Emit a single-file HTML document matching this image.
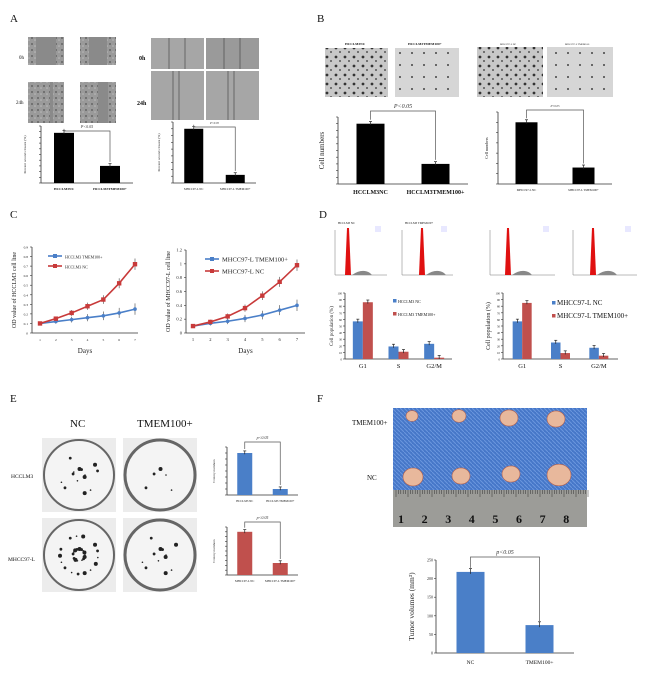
<!DOCTYPE html>
<html><head><meta charset="utf-8"><style>
body{margin:0;background:#fff}
svg{display:block;font-family:"Liberation Serif",serif}
</style></head><body>
<svg id="fig" width="650" height="676" viewBox="0 0 650 676">
<defs>
<pattern id="cells" width="6" height="6" patternUnits="userSpaceOnUse"><rect width="6" height="6" fill="#9a9a9a"/><circle cx="2" cy="2" r="1" fill="#666"/><circle cx="5" cy="4" r="0.8" fill="#bbb"/></pattern>
<pattern id="inv" width="9" height="9" patternUnits="userSpaceOnUse"><rect width="9" height="9" fill="#c8c8c8"/><circle cx="3" cy="3" r="1.4" fill="#333"/><circle cx="7" cy="7" r="1" fill="#555"/></pattern>
<pattern id="inv2" width="12" height="12" patternUnits="userSpaceOnUse"><rect width="12" height="12" fill="#d6d6d6"/><circle cx="4" cy="5" r="1" fill="#444"/></pattern>
<pattern id="blue" width="4" height="4" patternUnits="userSpaceOnUse"><rect width="4" height="4" fill="#4677c8"/><path d="M0 0L4 4" stroke="#6a96de" stroke-width="1"/></pattern>
</defs>
<g id="root"></g>
</svg>
<script>
// ---- data ----
const aCats1 = ["HCCLM3NC","HCCLM3TMEM100+"];
const aVals1 = [88, 30];
const aCats2 = ["MHCC97-L NC","MHCC97-L TMEM100+"];
const aVals2 = [80, 12];
const bVals1 = [90, 30];
const bVals2 = [120, 32];
const days = [1,2,3,4,5,6,7];
const cNC1 = [0.10,0.15,0.21,0.28,0.35,0.52,0.72];
const cTM1 = [0.10,0.12,0.14,0.16,0.18,0.21,0.25];
const cNC2 = [0.10,0.16,0.24,0.36,0.54,0.74,0.98];
const cTM2 = [0.10,0.14,0.17,0.21,0.26,0.33,0.40];
const phases = ["G1","S","G2/M"];
const dNC1 = [57,19,23];
const dTM1 = [86,11,2];
const dNC2 = [57,25,17];
const dTM2 = [85,9,5];
const eVals1 = [70,10];
const eVals2 = [90,25];
const fCats = ["NC","TMEM100+"];
const fVals = [218,75];

const NS="http://www.w3.org/2000/svg";
const root=document.getElementById('root');
function el(tag,attrs,parent,txt){const e=document.createElementNS(NS,tag);for(const k in attrs)e.setAttribute(k,attrs[k]);if(txt!==undefined)e.textContent=txt;(parent||root).appendChild(e);return e;}
function text(x,y,s,size,name,extra){const t=el('text',Object.assign({x:x,y:y,'font-size':size,fill:'#111'},extra||{}),root,s);


return t;}

function barChart(o){
  const g=el('g',{});
  
  
  const sy=v=>o.yb-(v/o.max)*(o.yb-o.yt);
  el('line',{x1:o.x0,y1:o.yt,x2:o.x0,y2:o.yb,stroke:'#333','stroke-width':0.8},g);
  el('line',{x1:o.x0,y1:o.yb,x2:o.x1,y2:o.yb,stroke:'#333','stroke-width':0.8},g);
  for(let v=0;v<=o.max+1e-9;v+=o.step){const y=sy(v);el('line',{x1:o.x0-2,y1:y,x2:o.x0,y2:y,stroke:'#333','stroke-width':0.6},g);
    if(o.tick){el('text',{x:o.x0-3,y:y+1.5,'font-size':o.tick,'text-anchor':'end',fill:'#222'},g,String(v));}}
  const n=o.cats.length, gw=(o.x1-o.x0)/n, ns=o.series.length;
  for(let i=0;i<n;i++){
    const cx=o.x0+(i+0.5)*gw;
    o.series.forEach((s,j)=>{
      const bx=cx-ns*o.bw/2+j*o.bw, v=s.vals[i], y=sy(v);
      const r=el('rect',{x:bx,y:y,width:o.bw,height:o.yb-y,fill:s.color},g);
      
      
      const e=(s.err||0.06)*o.max*0.12+1.5;
      el('line',{x1:bx+o.bw/2,y1:y-e,x2:bx+o.bw/2,y2:y+e*0.6,stroke:'#222','stroke-width':0.7},g);
      el('line',{x1:bx+o.bw/2-1.5,y1:y-e,x2:bx+o.bw/2+1.5,y2:y-e,stroke:'#222','stroke-width':0.7},g);
    });
    if(o.lab){el('text',{x:cx,y:o.yb+o.lab.dy,'font-size':o.lab.size,'text-anchor':'middle',fill:'#111','font-weight':o.lab.bold?'bold':'normal'},g,o.cats[i]);}
  }
  if(o.bracket){
    const c0=o.x0+0.5*gw, c1=o.x0+1.5*gw, yb=o.bracket.y;
    const ya=sy(o.series[0].vals[0])-4, yb2=sy(o.series[0].vals[1])-4;
    el('polyline',{points:`${c0},${ya} ${c0},${yb} ${c1},${yb} ${c1},${yb2}`,fill:'none',stroke:'#555','stroke-width':0.7},g);
    el('text',{x:(c0+c1)/2,y:yb-3,'font-size':o.bracket.size,'text-anchor':'middle','font-style':'italic',fill:'#333'},g,o.bracket.t);
  }
  if(o.ylab){el('text',{x:o.ylab.x,y:(o.yt+o.yb)/2,'font-size':o.ylab.size,'text-anchor':'middle',fill:'#222',transform:`rotate(-90 ${o.ylab.x} ${(o.yt+o.yb)/2})`},g,o.ylab.t);}
}

function lineChart(o){
  const g=el('g',{});
  
  
  const sx=d=>o.xa+(d-1)/6*(o.xb-o.xa), sy=v=>o.yb-v/o.max*(o.yb-o.yt);
  el('line',{x1:o.x0,y1:o.yt,x2:o.x0,y2:o.yb,stroke:'#333','stroke-width':0.8},g);
  el('line',{x1:o.x0,y1:o.yb,x2:o.x1,y2:o.yb,stroke:'#333','stroke-width':0.8},g);
  for(let v=0;v<=o.max+1e-9;v+=o.step){const y=sy(v);el('line',{x1:o.x0-2,y1:y,x2:o.x0,y2:y,stroke:'#333','stroke-width':0.6},g);
    el('text',{x:o.x0-4,y:y+1.5,'font-size':o.tick,'text-anchor':'end',fill:'#222'},g,String(+v.toFixed(1)));}
  days.forEach(d=>{el('text',{x:sx(d),y:o.yb+8,'font-size':o.tick,'text-anchor':'middle',fill:'#222'},g,String(d));});
  el('text',{x:(o.x0+o.x1)/2,y:o.yb+20,'font-size':7,'text-anchor':'middle',fill:'#222'},g,'Days');
  el('text',{x:o.x0-16,y:(o.yt+o.yb)/2,'font-size':6,'text-anchor':'middle',fill:'#222',transform:`rotate(-90 ${o.x0-16} ${(o.yt+o.yb)/2})`},g,o.ylab);
  [[o.tm,'#4a7fc8','d'],[o.nc,'#c83a3a','s']].forEach(([vals,c,m])=>{
    const pl=el('polyline',{points:vals.map((v,i)=>sx(days[i])+','+sy(v)).join(' '),fill:'none',stroke:c,'stroke-width':1.6},g);
    
    
    vals.forEach((v,i)=>{const x=sx(days[i]),y=sy(v),e=1.5+i*0.7;
      el('line',{x1:x,y1:y-e,x2:x,y2:y+e,stroke:'#444','stroke-width':0.6},g);
      const p=m==='s'?el('rect',{x:x-2.2,y:y-2.2,width:4.4,height:4.4,fill:c},g):el('circle',{cx:x,cy:y,r:1.8,fill:c},g);
      
      
    });
  });
  o.leg.forEach((L,i)=>{const y=o.ly+i*o.lg;
    el('line',{x1:o.lx,y1:y,x2:o.lx+14,y2:y,stroke:L[1],'stroke-width':1.6},g);
    el('rect',{x:o.lx+5,y:y-2,width:4,height:4,fill:L[1]},g);
    el('text',{x:o.lx+17,y:y+2.5,'font-size':o.lsize,fill:'#222'},g,L[0]);});
}

// ---- Panel labels ----
[['A',10,22],['B',317,22],['C',10,218],['D',319,218],['E',10,402],['F',317,402]].forEach(p=>text(p[1],p[2],p[0],11,'panel-label-'+p[0].toLowerCase()));

// ---- Panel A images ----
function img(x,y,w,h,fill,name){const r=el('rect',{x:x,y:y,width:w,height:h,fill:fill});return r;}
[[28,37,0],[80,37,0]].forEach(([x,y],i)=>{img(x,y,36,28,'url(#cells)','wound-0h-'+i);el('rect',{x:x+(i?9:8),y:y,width:i?18:20,height:28,fill:'#8a8a8a'});});
[[28,82],[80,82]].forEach(([x,y],i)=>{img(x,y,36,41,'url(#cells)','wound-24h-'+i);el('rect',{x:x+(i?18:22),y:y,width:i?10:3,height:41,fill:'#8a8a8a'});});
text(19,59,'0h',5,'label-0h-left');text(16,104,'24h',5,'label-24h-left');
[[151,38,31],[206,38,31],[151,71,49],[206,71,49]].forEach(([x,y,h],i)=>{img(x,y,53,h,i==1?'#9a9a9a':'#a6a6a6','wound-mhcc-'+i);
 el('line',{x1:x+18+(i>1?4:0),y1:y,x2:x+18+(i>1?4:0),y2:y+h,stroke:'#555','stroke-width':0.8});el('line',{x1:x+34-(i>1?6:0),y1:y,x2:x+34-(i>1?6:0),y2:y+h,stroke:'#555','stroke-width':0.8});});
text(139,60,'0h',6,'label-0h-right',{'font-weight':'bold'});text(137,105,'24h',6,'label-24h-right',{'font-weight':'bold'});

barChart({name:'chart-a1',x0:41,x1:133,yt:126,yb:183,max:100,step:10,cats:aCats1,bw:20,series:[{vals:aVals1,color:'#000'}],lab:{dy:7,size:3.5,bold:true},bracket:{y:131,t:'P<0.05',size:4},ylab:{x:26,t:'Percent wound closure (%)',size:3.5}});
barChart({name:'chart-a2',x0:173,x1:256,yt:122,yb:183,max:90,step:10,cats:aCats2,bw:19,series:[{vals:aVals2,color:'#000'}],lab:{dy:7,size:3,bold:false},bracket:{y:127,t:'P<0.05',size:3},ylab:{x:160,t:'Percent wound closure (%)',size:3.5}});

// ---- Panel B ----
img(325,48,63,49,'url(#inv)','invasion-hcclm3-nc');img(395,48,64,49,'url(#inv2)','invasion-hcclm3-tmem');
img(477,47,66,50,'url(#inv)','invasion-mhcc-nc');img(547,47,66,50,'url(#inv2)','invasion-mhcc-tmem');
text(345,45,'HCCLM3NC',3.5,'title-hcclm3-nc',{'font-weight':'bold'});text(408,45,'HCCLM3TMEM100+',3.5,'title-hcclm3-tmem',{'font-weight':'bold'});
text(500,45,'MHCC97-L NC',2.5,'title-mhcc-nc');text(565,45,'MHCC97-L TMEM100+',2.5,'title-mhcc-tmem');
barChart({name:'chart-b1',x0:338,x1:468,yt:117,yb:184,max:100,step:10,cats:aCats1,bw:28,series:[{vals:bVals1,color:'#000'}],lab:{dy:10,size:6,bold:true},bracket:{y:111,t:'P<0.05',size:6},ylab:{x:324,t:'Cell numbers',size:7}});
barChart({name:'chart-b2',x0:498,x1:612,yt:112,yb:184,max:140,step:20,cats:aCats2,bw:22,series:[{vals:bVals2,color:'#000'}],lab:{dy:7,size:3,bold:false},bracket:{y:110,t:'P<0.05',size:3},ylab:{x:488,t:'Cell numbers',size:4}});

// ---- Panel C ----
lineChart({name:'chart-c1',x0:32,x1:138,xa:40,xb:135,yt:247,yb:333,max:0.9,step:0.1,tick:3.5,nc:cNC1,tm:cTM1,ylab:'OD value of HCCLM3 cell line',leg:[['HCCLM3 TMEM100+','#4a7fc8'],['HCCLM3 NC','#c83a3a']],lx:48,ly:256,lg:10,lsize:4});
lineChart({name:'chart-c2',x0:186,x1:305,xa:193,xb:297,yt:250,yb:333,max:1.2,step:0.2,tick:4.5,nc:cNC2,tm:cTM2,ylab:'OD value of MHCC97-L cell line',leg:[['MHCC97-L TMEM100+','#4a7fc8'],['MHCC97-L NC','#c83a3a']],lx:205,ly:259,lg:12,lsize:6.5});

// ---- Panel D histograms ----
function hist(x,peak,w,name){const g=el('g',{});
 el('polyline',{points:`${x},230 ${x},275 ${x+w},275`,fill:'none',stroke:'#777','stroke-width':0.5},g);
 el('path',{d:`M${peak-3},275 L${peak-1},${228} L${peak+1},${228} L${peak+3},275 Z`,fill:'#e01010'},g);
 el('path',{d:`M${peak+4},275 Q${peak+14},268 ${peak+22},273 L${peak+24},275 Z`,fill:'#888'},g);
 el('rect',{x:x+w-12,y:226,width:6,height:6,fill:'#e8e8ff'},g);}
hist(335,348,52,'histogram-1');hist(402,422,51,'histogram-2');hist(490,508,65,'histogram-3');hist(573,593,64,'histogram-4');
text(338,224,'HCCLM3 NC',3,'hist-title-1');text(405,224,'HCCLM3 TMEM100+',3,'hist-title-2');

barChart({name:'chart-d1',x0:345,x1:452,yt:293,yb:359,max:100,step:10,cats:phases,bw:10,series:[{vals:dNC1,color:'#4a7fc8'},{vals:dTM1,color:'#c0504d'}],lab:{dy:9,size:6.5},tick:3,ylab:{x:333,t:'Cell population (%)',size:5}});
barChart({name:'chart-d2',x0:503,x1:618,yt:293,yb:359,max:100,step:10,cats:phases,bw:9.5,series:[{vals:dNC2,color:'#4a7fc8'},{vals:dTM2,color:'#c0504d'}],lab:{dy:9,size:6.5},tick:3,ylab:{x:490,t:'Cell population (%)',size:6}});
[[398,303,'HCCLM3 NC',4],[398,316,'HCCLM3 TMEM100+',4],[557,305,'MHCC97-L NC',7],[557,318,'MHCC97-L TMEM100+',7]].forEach((L,i)=>{
 el('rect',{x:L[0]-5,y:L[1]-4,width:3.5,height:3.5,fill:i%2?'#c0504d':'#4a7fc8'});
 text(L[0],L[1],L[2],L[3],'legend-entry-d-'+i);});

// ---- Panel E ----
text(70,427,'NC',11,'col-title-nc');text(137,427,'TMEM100+',11,'col-title-tmem');
text(11,478,'HCCLM3',5.5,'row-label-hcclm3');text(8,561,'MHCC97-L',5.5,'row-label-mhcc');
[[79,475,'d1',14],[160,475,'d2',5],[79,555,'d3',30],[160,555,'d4',12]].forEach(([cx,cy,n,k],i)=>{
 img(cx-37,cy-37,74,74,'#ececec','dish-bg-'+i);
 const c=el('circle',{cx:cx,cy:cy,r:35,fill:'#f4f4f4',stroke:'#666','stroke-width':i%2?3:2});
 
 for(let j=0;j<k;j++){const a=j*2.4,r=6+((j*13)%26);el('circle',{cx:cx+r*Math.cos(a),cy:cy+r*Math.sin(a),r:0.8+(j%3)*0.6,fill:'#222'});}
});
barChart({name:'chart-e1',x0:227,x1:298,yt:447,yb:495,max:80,step:10,cats:["HCCLM3 NC","HCCLM3 TMEM100+"],bw:15,series:[{vals:eVals1,color:'#4a7fc8'}],lab:{dy:7,size:3},bracket:{y:442,t:'p<0.05',size:4},ylab:{x:215,t:'Colony numbers',size:3.5}});
barChart({name:'chart-e2',x0:227,x1:298,yt:527,yb:575,max:100,step:10,cats:["MHCC97-L NC","MHCC97-L TMEM100+"],bw:15,series:[{vals:eVals2,color:'#c0504d'}],lab:{dy:7,size:3},bracket:{y:522,t:'p<0.05',size:4},ylab:{x:215,t:'Colony numbers',size:3.5}});

// ---- Panel F ----
img(393,408,194,82,'url(#blue)','tumor-photo');
img(393,490,194,37,'#9c9c98','ruler');
for(let i=0;i<=80;i++){el('line',{x1:396+i*2.4,y1:490,x2:396+i*2.4,y2:490+(i%5?4:7),stroke:'#333','stroke-width':0.5});}
for(let i=1;i<=8;i++)text(396+(i-1)*23.6+2,523,String(i),12,'ruler-number-'+i,{'font-weight':'bold'});
[[412,416,6],[459,416,7],[509,418,9],[556,419,9],[413,477,10],[461,476,9],[511,474,9],[559,475,12]].forEach(([x,y,r],i)=>{
 const c=el('ellipse',{cx:x,cy:y,rx:r,ry:r*0.9,fill:'#e8b89c',stroke:'#b06050','stroke-width':0.6});
 });
text(352,425,'TMEM100+',7,'row-label-tmem');text(367,480,'NC',7,'row-label-nc');
barChart({name:'chart-f',x0:436,x1:574,yt:560,yb:653,max:250,step:50,cats:fCats,bw:28,series:[{vals:fVals,color:'#4a7fc8'}],lab:{dy:11,size:5.5},tick:4,bracket:{y:557,t:'p<0.05',size:6},ylab:{x:414,t:'Tumor volumes (mm³)',size:7.5}});
</script>
</body></html>
